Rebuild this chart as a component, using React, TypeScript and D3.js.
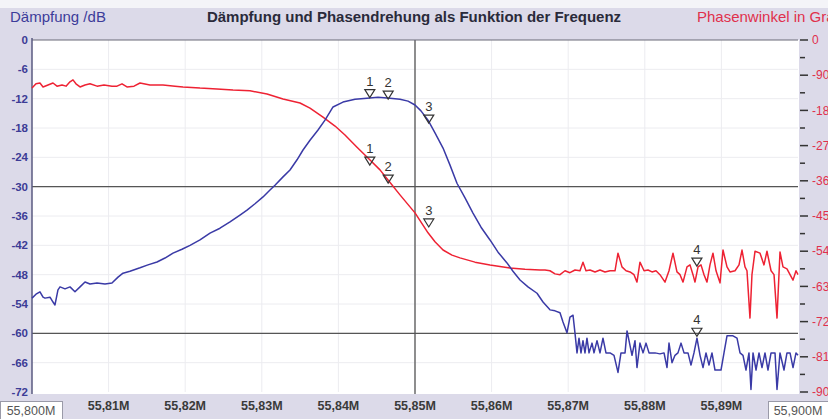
import React, { useEffect, useRef } from 'react';
import * as d3 from 'd3';

const W = 828;
const H = 419;

// Dämpfung (blaue Kurve), Frequenz in MHz
const blueFreq = [
  55.80000, 55.80052, 55.80104, 55.80144, 55.80170, 55.80235, 55.80274, 55.80300, 55.80339, 55.80366,
  55.80431, 55.80496, 55.80561, 55.80627, 55.80692, 55.80757, 55.80849, 55.80953, 55.81044, 55.81123,
  55.81188, 55.81279, 55.81410, 55.81514, 55.81632, 55.81736, 55.81841, 55.81958, 55.82063, 55.82193,
  55.82324, 55.82454, 55.82585, 55.82715, 55.82807, 55.82911, 55.83016, 55.83107, 55.83172, 55.83277,
  55.83368, 55.83460, 55.83538, 55.83629, 55.83734, 55.83825, 55.83930, 55.84060, 55.84217, 55.84373,
  55.84517, 55.84674, 55.84804, 55.84909, 55.85000, 55.85078, 55.85170, 55.85261, 55.85366, 55.85457,
  55.85548, 55.85653, 55.85757, 55.85862, 55.85979, 55.86084, 55.86201, 55.86279, 55.86371, 55.86475,
  55.86593, 55.86671, 55.86762, 55.86828, 55.86893, 55.86932, 55.86984, 55.87023, 55.87063,
  55.87089, 55.87115, 55.87141, 55.87167, 55.87193, 55.87219, 55.87245, 55.87272, 55.87311, 55.87337,
  55.87376, 55.87415, 55.87454, 55.87493, 55.87546, 55.87598, 55.87650, 55.87689, 55.87742, 55.87768,
  55.87794, 55.87833, 55.87872, 55.87898, 55.87937, 55.87977, 55.88016, 55.88055, 55.88133, 55.88198,
  55.88251, 55.88290, 55.88316, 55.88355, 55.88394, 55.88433, 55.88473, 55.88512, 55.88564, 55.88603,
  55.88642, 55.88681, 55.88721, 55.88760, 55.88799, 55.88838, 55.88877, 55.88916, 55.88956, 55.88995,
  55.89034, 55.89073, 55.89151, 55.89204, 55.89243, 55.89282, 55.89321, 55.89360, 55.89386, 55.89413,
  55.89452, 55.89491, 55.89530, 55.89569, 55.89608, 55.89648, 55.89700, 55.89726, 55.89765, 55.89817,
  55.89856, 55.89896, 55.89935, 55.89974, 55.90000,
];
const blueDb = [
  -52.8, -52.0, -51.5, -52.6, -52.8, -52.6, -53.6, -54.2, -51.1, -50.5,
  -50.9, -50.5, -51.5, -50.5, -49.5, -49.9, -49.7, -49.9, -49.7, -48.5,
  -47.7, -47.3, -46.6, -46.0, -45.4, -44.6, -43.6, -42.8, -42.0, -40.9,
  -39.5, -38.5, -37.2, -35.8, -34.8, -33.5, -32.1, -30.7, -29.7, -28.0,
  -26.6, -24.5, -22.5, -20.5, -18.4, -16.4, -13.7, -12.7, -12.1, -11.9,
  -11.7, -11.9, -12.1, -12.5, -13.3, -14.5, -16.4, -19.0, -22.1, -25.6,
  -29.3, -32.3, -35.4, -38.3, -40.9, -43.4, -45.6, -47.3, -49.1, -50.5,
  -51.8, -53.6, -55.2, -55.4, -55.8, -57.7, -59.9, -56.7, -56.3,
  -60.0, -64.0, -61.0, -64.0, -61.5, -64.0, -61.0, -64.0, -62.0, -64.0,
  -61.5, -64.0, -61.0, -64.0, -64.0, -64.5, -68.0, -64.0, -64.0, -59.5,
  -61.5, -64.5, -61.5, -67.0, -62.0, -64.0, -62.0, -64.0, -64.0, -64.2,
  -64.0, -67.0, -62.0, -66.0, -64.5, -64.0, -62.0, -64.0, -64.0, -66.5,
  -64.0, -61.0, -64.5, -67.0, -64.0, -66.5, -64.0, -67.5, -67.5, -67.5,
  -64.0, -60.5, -60.5, -61.0, -64.0, -64.5, -67.5, -64.0, -71.5, -64.0,
  -67.5, -64.0, -67.0, -64.0, -67.5, -64.0, -64.0, -71.5, -64.0, -67.5,
  -64.0, -64.0, -67.0, -64.0, -64.5,
];

// Phasenwinkel (rote Kurve), Grad
const redFreq = [
  55.80000, 55.80052, 55.80104, 55.80144, 55.80209, 55.80274, 55.80326, 55.80392, 55.80444, 55.80496,
  55.80535, 55.80574, 55.80627, 55.80692, 55.80757, 55.80849, 55.80940, 55.81044, 55.81110, 55.81175,
  55.81240, 55.81332, 55.81410, 55.81540, 55.81710, 55.81867, 55.81971, 55.82193, 55.82415, 55.82624,
  55.82846, 55.83068, 55.83277, 55.83499, 55.83629, 55.83799, 55.83956, 55.84086, 55.84243, 55.84413,
  55.84543, 55.84648, 55.84804, 55.85000, 55.85170, 55.85261, 55.85366, 55.85483, 55.85587, 55.85783,
  55.85979, 55.86240, 55.86436, 55.86632,
  55.86697, 55.86762, 55.86828, 55.86893, 55.86958, 55.87023, 55.87089, 55.87154, 55.87193, 55.87232,
  55.87285, 55.87350, 55.87415, 55.87480, 55.87546, 55.87611, 55.87650, 55.87702, 55.87755, 55.87807,
  55.87859, 55.87898, 55.87937, 55.87990, 55.88042, 55.88094, 55.88146, 55.88198, 55.88264, 55.88316,
  55.88368, 55.88420, 55.88460, 55.88499, 55.88551, 55.88590, 55.88629, 55.88655, 55.88695, 55.88734,
  55.88773, 55.88812, 55.88851, 55.88890, 55.88930, 55.88982, 55.89021, 55.89073, 55.89112, 55.89178,
  55.89230, 55.89269, 55.89308, 55.89334, 55.89373, 55.89399, 55.89439, 55.89504, 55.89556, 55.89595,
  55.89648, 55.89687, 55.89726, 55.89765, 55.89804, 55.89856, 55.89896, 55.89935, 55.89974, 55.90000,
];
const redDeg = [
  -123, -112, -110, -120, -115, -110, -118, -115, -118, -107,
  -102, -112, -120, -115, -112, -118, -115, -118, -118, -112,
  -120, -118, -110, -115, -115, -118, -120, -123, -125, -128,
  -130, -138, -151, -161, -174, -197, -220, -243, -274, -307,
  -332, -358, -396, -442, -493, -516, -537, -550, -557, -568,
  -575, -583, -586, -588,
  -588, -590, -598, -600, -590, -595, -588, -590, -568, -590,
  -588, -593, -588, -593, -590, -590, -545, -580, -590, -593,
  -600, -619, -568, -590, -588, -593, -590, -600, -619, -590,
  -545, -593, -600, -619, -580, -575, -600, -619, -580, -575,
  -600, -619, -575, -545, -590, -621, -537, -580, -593, -590,
  -575, -537, -580, -590, -711, -600, -540, -545, -575, -540,
  -590, -600, -711, -542, -580, -585, -600, -614, -590, -600,
];

const dbTicks = [0, -6, -12, -18, -24, -30, -36, -42, -48, -54, -60, -66, -72];
const degTicks = [0, -90, -180, -270, -360, -450, -540, -630, -720, -810, -900];
const degMinor = [-45, -135, -225, -315, -405, -495, -585, -675, -765, -855];
const freqTicks = [55.81, 55.82, 55.83, 55.84, 55.85, 55.86, 55.87, 55.88, 55.89];
const freqLabels = ['55,81M', '55,82M', '55,83M', '55,84M', '55,85M', '55,86M', '55,87M', '55,88M', '55,89M'];
const refDb = [-30, -60];
const refFreq = [55.85];

const markerNames = ['1', '2', '3', '4'];
const markerFreq = [55.8441, 55.8465, 55.8518, 55.8868];
const blueMarkerDb = [-11.8, -12.1, -17.0, -60.6];
const redMarkerDeg = [-320, -366, -478, -578];

const FONT = "'Liberation Sans', Arial, sans-serif";

function App() {
  const svgRef = useRef(null);

  useEffect(() => {
    const svg = d3.select(svgRef.current);
    svg.selectAll('*').remove();

    const left = 32, right = 798, top = 40, bottom = 392;

    const x = d3.scaleLinear().domain([55.80, 55.90]).range([left, right]);
    const yDb = d3.scaleLinear().domain([0, -72]).range([top, bottom]);
    const yDeg = d3.scaleLinear().domain([0, -900]).range([top, bottom]);

    // Hintergrund
    svg.append('rect').attr('width', W).attr('height', H).attr('fill', '#dcdae9');
    svg.append('rect').attr('width', W).attr('height', 8).attr('fill', '#f4f4f8');
    svg.append('rect')
      .attr('x', left).attr('y', top)
      .attr('width', right - left + 1).attr('height', bottom - top + 2)
      .attr('fill', '#ffffff');

    // feines Gitter
    svg.append('g').selectAll('line').data(dbTicks.slice(1, -1)).enter().append('line')
      .attr('x1', left).attr('x2', right)
      .attr('y1', d => yDb(d)).attr('y2', d => yDb(d))
      .attr('stroke', '#ececf0').attr('stroke-width', 1);
    svg.append('g').selectAll('line').data(freqTicks).enter().append('line')
      .attr('x1', d => x(d)).attr('x2', d => x(d))
      .attr('y1', top).attr('y2', bottom)
      .attr('stroke', '#ececf0').attr('stroke-width', 1);

    // Referenzlinien
    svg.append('g').selectAll('line').data(refDb).enter().append('line')
      .attr('x1', left).attr('x2', right)
      .attr('y1', d => yDb(d)).attr('y2', d => yDb(d))
      .attr('stroke', '#555').attr('stroke-width', 1.3);
    svg.append('g').selectAll('line').data(refFreq).enter().append('line')
      .attr('x1', d => x(d)).attr('x2', d => x(d))
      .attr('y1', top).attr('y2', bottom + 2)
      .attr('stroke', '#555').attr('stroke-width', 1.3);

    // Rahmen oben + linke Achse
    svg.append('line').attr('x1', left).attr('x2', right).attr('y1', top).attr('y2', top)
      .attr('stroke', '#6a6a78').attr('stroke-width', 1.2);
    svg.append('line').attr('x1', left).attr('x2', left).attr('y1', top - 2).attr('y2', bottom + 2)
      .attr('stroke', '#5a5a80').attr('stroke-width', 1.5);

    // Kurven
    const redLine = d3.line<number>()
      .x((d, i) => x(redFreq[i]))
      .y(d => yDeg(d));
    svg.append('path').datum(redDeg)
      .attr('d', redLine)
      .attr('fill', 'none').attr('stroke', '#ee2233').attr('stroke-width', 1.5)
      .attr('stroke-linejoin', 'round');

    const blueLine = d3.line<number>()
      .x((d, i) => x(blueFreq[i]))
      .y(d => yDb(d));
    svg.append('path').datum(blueDb)
      .attr('d', blueLine)
      .attr('fill', 'none').attr('stroke', '#3a3aa6').attr('stroke-width', 1.5)
      .attr('stroke-linejoin', 'round');

    // Marker
    const drawMarkers = (ys: number[]) => {
      const g = svg.append('g');
      markerFreq.forEach((f, i) => {
        const cx = x(f), cy = ys[i];
        g.append('path')
          .attr('d', `M${cx},${cy} L${cx - 5},${cy - 8} L${cx + 5},${cy - 8} Z`)
          .attr('fill', 'none').attr('stroke', '#333').attr('stroke-width', 1.2);
        g.append('text')
          .attr('x', cx).attr('y', cy - 12)
          .attr('text-anchor', 'middle')
          .attr('font-family', FONT).attr('font-size', 13)
          .attr('fill', '#333')
          .text(markerNames[i]);
      });
    };
    drawMarkers(blueMarkerDb.map(d => yDb(d)));
    drawMarkers(redMarkerDeg.map(d => yDeg(d)));

    // linke Achse (dB)
    svg.append('g').selectAll('text').data(dbTicks).enter().append('text')
      .attr('x', 28).attr('y', d => yDb(d))
      .attr('dy', '0.35em')
      .attr('text-anchor', 'end')
      .attr('font-family', FONT).attr('font-size', 11.5).attr('font-weight', 'bold')
      .attr('fill', '#3c3c96')
      .text(d => String(d));

    // rechte Achse (Grad)
    svg.append('g').selectAll('line').data(degTicks).enter().append('line')
      .attr('x1', 800).attr('x2', 808)
      .attr('y1', d => yDeg(d)).attr('y2', d => yDeg(d))
      .attr('stroke', '#333').attr('stroke-width', 1.5);
    svg.append('g').selectAll('line').data(degMinor).enter().append('line')
      .attr('x1', 800).attr('x2', 805)
      .attr('y1', d => yDeg(d)).attr('y2', d => yDeg(d))
      .attr('stroke', '#333').attr('stroke-width', 1.5);
    svg.append('g').selectAll('text').data(degTicks).enter().append('text')
      .attr('x', 812).attr('y', d => yDeg(d))
      .attr('dy', '0.35em')
      .attr('font-family', FONT).attr('font-size', 12)
      .attr('fill', '#e0304c')
      .text(d => String(d));

    // Frequenzachse
    svg.append('g').selectAll('text').data(freqTicks).enter().append('text')
      .attr('x', d => x(d)).attr('y', 410)
      .attr('text-anchor', 'middle')
      .attr('font-family', FONT).attr('font-size', 12.5).attr('font-weight', 'bold')
      .attr('fill', '#3a3a3a')
      .text((d, i) => freqLabels[i]);

    const box = (bx: number, w: number, label: string) => {
      svg.append('rect').attr('x', bx + 0.5).attr('y', 401.5).attr('width', w).attr('height', 18)
        .attr('fill', '#fff').attr('stroke', '#9a9aa8');
      svg.append('text').attr('x', bx + w / 2).attr('y', 415)
        .attr('text-anchor', 'middle')
        .attr('font-family', FONT).attr('font-size', 12.5)
        .attr('fill', '#555').text(label);
    };
    box(0, 62, '55,800M');
    box(768, 60, '55,900M');

    // Titel
    svg.append('text').attr('x', 10).attr('y', 22)
      .attr('font-family', FONT).attr('font-size', 15)
      .attr('fill', '#3c3c9a').text('Dämpfung /dB');
    svg.append('text').attr('x', 414).attr('y', 22)
      .attr('text-anchor', 'middle')
      .attr('font-family', FONT).attr('font-size', 15).attr('font-weight', 'bold')
      .attr('fill', '#2a2a3a').text('Dämpfung und Phasendrehung als Funktion der Frequenz');
    svg.append('text').attr('x', 697).attr('y', 22)
      .attr('font-family', FONT).attr('font-size', 15)
      .attr('fill', '#e0304c').text('Phasenwinkel in Grad');
  }, []);

  return (
    <svg ref={svgRef} width={W} height={H}
      style={{ position: 'absolute', left: 0, top: 0, display: 'block' }} />
  );
}

export default App;
